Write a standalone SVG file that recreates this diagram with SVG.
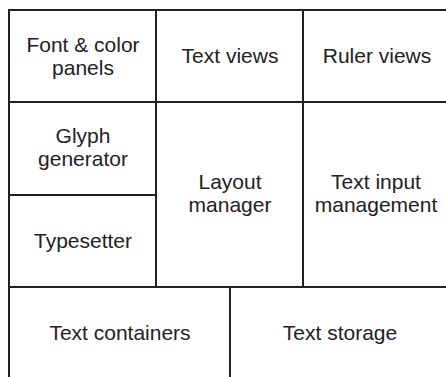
<svg xmlns="http://www.w3.org/2000/svg" width="446" height="377" viewBox="0 0 446 377">
<style>
.l{stroke:#222;stroke-width:2;fill:none}
text{font-family:"Liberation Sans",Arial,sans-serif;font-size:21px;fill:#222;text-anchor:middle}
</style>
<rect width="446" height="377" fill="#fff"/>
<g id="connectors">
<line class="l" x1="9" y1="10" x2="446" y2="10"/>
<line class="l" x1="9" y1="9" x2="9" y2="377"/>
<line class="l" x1="9" y1="102" x2="446" y2="102"/>
<line class="l" x1="9" y1="195" x2="156" y2="195"/>
<line class="l" x1="9" y1="287" x2="446" y2="287"/>
<line class="l" x1="156" y1="10" x2="156" y2="287"/>
<line class="l" x1="303" y1="10" x2="303" y2="287"/>
<line class="l" x1="230" y1="287" x2="230" y2="377"/>
</g>
<g id="font-color-panels"><text x="83" y="52">Font &amp; color</text><text x="83" y="75">panels</text></g>
<g id="text-views"><text x="230" y="63">Text views</text></g>
<g id="ruler-views"><text x="377" y="63">Ruler views</text></g>
<g id="glyph-generator"><text x="83" y="143">Glyph</text><text x="83" y="166">generator</text></g>
<g id="typesetter"><text x="83" y="248">Typesetter</text></g>
<g id="layout-manager"><text x="230" y="189">Layout</text><text x="230" y="212">manager</text></g>
<g id="text-input-management"><text x="376" y="189">Text input</text><text x="376" y="212">management</text></g>
<g id="text-containers"><text x="120" y="340">Text containers</text></g>
<g id="text-storage"><text x="340" y="340">Text storage</text></g>
</svg>
